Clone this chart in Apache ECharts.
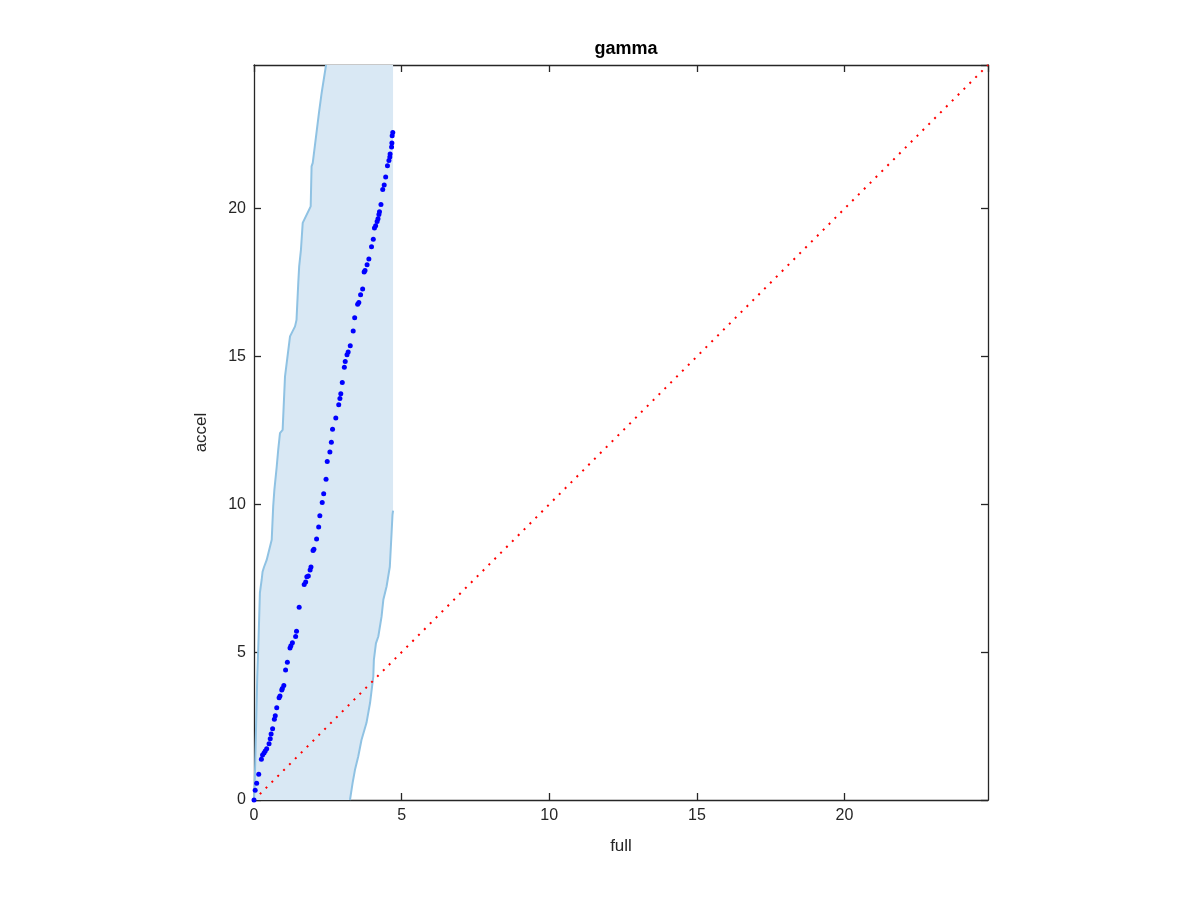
<!DOCTYPE html>
<html>
<head>
<meta charset="utf-8">
<script src="https://cdn.jsdelivr.net/npm/echarts@6/dist/echarts.min.js"></script>
<style>html,body{margin:0;padding:0;background:#fff}#c{width:1200px;height:900px}</style>
</head>
<body>
<div id="c"></div>
<script>
var titleText = 'gamma';
var xName = 'full';
var yName = 'accel';
var axisMax = 24.86;
var tickStep = 5;

// QQ points (full, accel)
var qqPoints = [
[0,0],[0.04,0.33],[0.09,0.57],[0.16,0.87],[0.25,1.38],[0.29,1.52],[0.34,1.59],[0.38,1.66],[0.43,1.73],
[0.51,1.90],[0.55,2.07],[0.58,2.23],[0.63,2.41],[0.69,2.73],[0.72,2.85],[0.77,3.12],[0.85,3.46],[0.88,3.52],
[0.94,3.72],[0.96,3.77],[1.01,3.87],[1.07,4.40],[1.13,4.66],[1.22,5.14],[1.25,5.22],[1.30,5.32],[1.41,5.53],
[1.44,5.71],[1.53,6.52],[1.70,7.29],[1.75,7.37],[1.79,7.55],[1.84,7.58],[1.90,7.78],[1.93,7.88],[2.00,8.44],
[2.03,8.48],[2.12,8.83],[2.19,9.23],[2.23,9.61],[2.31,10.06],[2.36,10.36],[2.44,10.85],[2.48,11.45],[2.57,11.77],
[2.62,12.10],[2.66,12.54],[2.77,12.92],[2.87,13.37],[2.91,13.58],[2.94,13.74],[2.99,14.12],[3.06,14.64],[3.09,14.83],
[3.15,15.06],[3.19,15.15],[3.26,15.36],[3.36,15.86],[3.41,16.31],[3.51,16.77],[3.55,16.83],[3.61,17.09],[3.68,17.28],
[3.73,17.86],[3.76,17.91],[3.83,18.10],[3.89,18.30],[3.98,18.71],[4.04,18.97],[4.08,19.35],[4.12,19.42],[4.17,19.57],
[4.20,19.66],[4.23,19.80],[4.25,19.90],[4.30,20.14],[4.36,20.65],[4.41,20.80],[4.46,21.07],[4.52,21.45],[4.57,21.63],
[4.60,21.75],[4.61,21.85],[4.66,22.09],[4.67,22.22],[4.68,22.47],[4.70,22.58]
];

// upper (left) boundary of envelope
var upperBound = [
[0,0],[0.03,0.78],[0.07,2.47],[0.11,4.16],[0.15,5.31],[0.20,7.01],[0.26,7.45],[0.29,7.72],[0.34,7.88],[0.43,8.12],
[0.60,8.80],[0.65,9.93],[0.69,10.49],[0.77,11.28],[0.82,11.84],[0.88,12.41],[0.97,12.52],[1.05,14.32],[1.22,15.68],
[1.39,16.02],[1.44,16.24],[1.50,17.50],[1.53,18.05],[1.59,18.61],[1.65,19.52],[1.92,20.08],[1.95,21.43],[1.99,21.55],
[2.20,23.24],[2.29,23.91],[2.44,24.86]
];

// lower (right) boundary of envelope
var lowerBound = [
[3.25,0],[3.34,0.58],[3.42,1.02],[3.53,1.47],[3.64,2.03],[3.81,2.61],[3.93,3.28],[4.04,4.17],[4.06,4.74],
[4.13,5.30],[4.21,5.53],[4.32,6.20],[4.38,6.77],[4.49,7.22],[4.60,7.89],[4.66,9.04],[4.69,9.64],[4.71,9.79]
];

var bandTopRight = [4.71, 24.86];
var refLine = [[0,0],[24.86,24.86]];

var polygonData = upperBound.concat([bandTopRight]).concat(lowerBound.slice().reverse());

var chart = echarts.init(document.getElementById('c'));
var axisColor = '#262626';
var fontFam = '"Liberation Sans", Arial, Helvetica, sans-serif';

function baseAxis(pos, show, name, nameGap) {
  var a = {
    type: 'value', position: pos, min: 0, max: axisMax, interval: tickStep,
    axisLine: {show: true, onZero: false, lineStyle: {color: axisColor, width: 1.3}},
    axisTick: {show: true, inside: true, length: 7, lineStyle: {color: axisColor, width: 1.3}},
    splitLine: {show: false},
    axisLabel: {show: show, color: axisColor, fontSize: 16, fontFamily: fontFam, showMaxLabel: false, margin: 8,
      formatter: function(v){ return (Math.abs(v/tickStep - Math.round(v/tickStep))<1e-6) ? String(v) : ''; }}
  };
  if (name) {
    a.name = name; a.nameLocation = 'middle'; a.nameGap = nameGap;
    a.nameTextStyle = {color: axisColor, fontSize: 17, fontFamily: fontFam};
  }
  return a;
}

chart.setOption({
  animation: false,
  backgroundColor: '#ffffff',
  title: {text: titleText, left: 621, textAlign: 'center', top: 35,
    textStyle: {fontSize: 18, fontWeight: 'bold', color: '#000', fontFamily: fontFam}},
  grid: {left: 254, top: 65, width: 734, height: 735, containLabel: false},
  xAxis: [
    baseAxis('bottom', true, xName, 38),
    baseAxis('top', false, null, 0)
  ],
  yAxis: [
    baseAxis('left', true, yName, 44),
    baseAxis('right', false, null, 0)
  ],
  series: [
    {
      type: 'custom', xAxisIndex: 0, yAxisIndex: 0, z: 1, clip: true,
      data: [0],
      renderItem: function(params, api) {
        var pts = polygonData.map(function(p){ return api.coord(p); });
        return {type: 'polygon', shape: {points: pts}, style: {fill: '#d9e8f4', stroke: null}};
      },
      silent: true
    },
    {type: 'line', data: upperBound, showSymbol: false, z: 2, lineStyle: {color: '#8fc2e3', width: 2}, silent: true},
    {type: 'line', data: lowerBound, showSymbol: false, z: 2, lineStyle: {color: '#8fc2e3', width: 2}, silent: true},
    {type: 'line', data: refLine, showSymbol: false, z: 3,
      lineStyle: {color: '#ff0000', width: 2, type: [2, 6.3]}, silent: true},
    {type: 'scatter', data: qqPoints, symbol: 'circle', symbolSize: 5, z: 4,
      itemStyle: {color: '#0000ff', opacity: 1}, silent: true}
  ]
});
</script>
</body>
</html>
